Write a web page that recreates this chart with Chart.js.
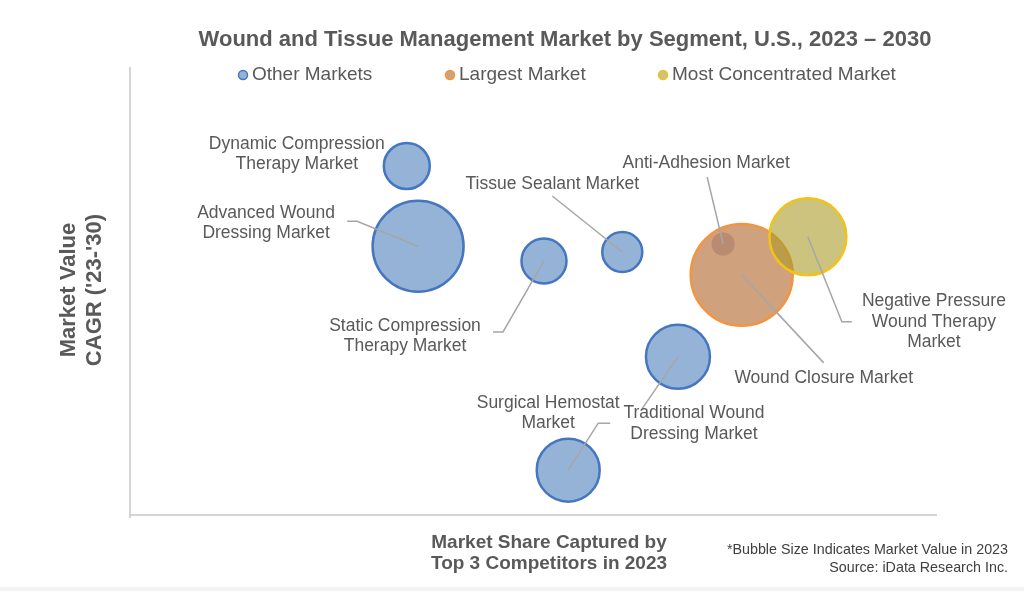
<!DOCTYPE html>
<html>
<head>
<meta charset="utf-8">
<script src="https://cdn.jsdelivr.net/npm/chart.js@4.4.0/dist/chart.umd.min.js"></script>
<style>
body{margin:0;background:#fff;}
#wrap{width:1024px;height:591px;position:relative;}
</style>
</head>
<body>
<div id="wrap"><canvas id="mycanvas" width="1024" height="591"></canvas></div>
<script>
// segment data (axes have no ticks, so both run 0-100)
var markets = ['Dynamic Compression Therapy Market', 'Advanced Wound Dressing Market',
	'Static Compression Therapy Market', 'Tissue Sealant Market', 'Traditional Wound Dressing Market',
	'Surgical Hemostat Market', 'Wound Closure Market', 'Negative Pressure Wound Therapy Market',
	'Anti-Adhesion Market'];
var top3Share = [34.3, 35.7, 51.3, 61.0, 67.9, 54.3, 75.8, 84.0, 73.5];
var cagr = [77.9, 60.0, 56.7, 58.7, 35.3, 10.0, 53.6, 62.1, 60.5];
var value2023 = [194, 760, 186, 147, 376, 364, 955, 544, 49];
var group = [0, 0, 0, 0, 0, 0, 1, 2, 3];
var legendLabels = ['Other Markets', 'Largest Market', 'Most Concentrated Market'];

// label text lines + offset from bubble centre, leader bend points (px)
var callouts = [
	{lines: ['Dynamic Compression', 'Therapy Market'], dx: -110, dy: -12, leader: []},
	{lines: ['Advanced Wound', 'Dressing Market'], dx: -152, dy: -23, leader: [[-61, -25], [-71, -25]]},
	{lines: ['Static Compression', 'Therapy Market'], dx: -139, dy: 75, leader: [[-41, 71], [-51, 71]]},
	{lines: ['Tissue Sealant Market'], dx: -70, dy: -68, leader: [[-70, -56]]},
	{lines: ['Traditional Wound', 'Dressing Market'], dx: 16, dy: 67, leader: [[-36, 52]]},
	{lines: ['Surgical Hemostat', 'Market'], dx: -20, dy: -57, leader: [[30, -47], [42, -47]]},
	{lines: ['Wound Closure Market'], dx: 82, dy: 103, leader: [[82, 88]]},
	{lines: ['Negative Pressure', 'Wound Therapy', 'Market'], dx: 126, dy: 85, leader: [[34, 85], [44, 85]]},
	{lines: ['Anti-Adhesion Market'], dx: -17, dy: -81, leader: [[-16, -67]]}
];

var fills = ['rgba(79,129,189,0.6)', 'rgba(176,98,38,0.6)', 'rgba(170,155,40,0.6)', 'rgba(140,100,90,0.35)'];
var borders = ['#4676C0', '#F39540', '#F2C21C', 'rgba(0,0,0,0)'];
var FONT = '"Liberation Sans", Arial, sans-serif';

function bubbles(g) {
	var pts = [];
	for (var i in markets) {
		if (group[i] != g) continue;
		pts.push({x: top3Share[i], y: cagr[i], r: Math.sqrt(value2023[i]) * 1.65, idx: +i});
	}
	return pts;
}

// draw order: first dataset ends on top
var datasets = [3, 2, 1, 0].map(function(g) {
	return {
		label: g < 3 ? legendLabels[g] : 'Anti-Adhesion',
		data: bubbles(g),
		backgroundColor: fills[g],
		borderColor: borders[g],
		borderWidth: g < 3 ? 2.5 : 0
	};
});

var decor = {
	id: 'decor',
	beforeDatasetsDraw: function(chart) {
		var ctx = chart.ctx, a = chart.chartArea;
		ctx.save();
		ctx.strokeStyle = '#C8C8C8';
		ctx.lineWidth = 1.5;
		ctx.beginPath();
		ctx.moveTo(a.left, a.top);
		ctx.lineTo(a.left, a.bottom + 3);
		ctx.moveTo(a.left, a.bottom);
		ctx.lineTo(a.right, a.bottom);
		ctx.stroke();
		ctx.fillStyle = '#F2F2F2';
		ctx.fillRect(0, 587, chart.width, 4);
		ctx.restore();
	},
	afterDatasetsDraw: function(chart) {
		var ctx = chart.ctx, xs = chart.scales.x, ys = chart.scales.y;
		ctx.save();
		// leader lines and segment labels
		for (var i in markets) {
			var cx = xs.getPixelForValue(top3Share[i]), cy = ys.getPixelForValue(cagr[i]);
			var c = callouts[i];
			if (c.leader.length) {
				ctx.strokeStyle = '#A6A6A6';
				ctx.lineWidth = 1.5;
				ctx.beginPath();
				ctx.moveTo(cx, cy);
				c.leader.forEach(function(p) { ctx.lineTo(cx + p[0], cy + p[1]); });
				ctx.stroke();
			}
			ctx.fillStyle = '#595959';
			ctx.font = '17.5px ' + FONT;
			ctx.textAlign = 'center';
			ctx.textBaseline = 'middle';
			var n = c.lines.length;
			c.lines.forEach(function(t, k) {
				ctx.fillText(t, cx + c.dx, cy + c.dy + (k - (n - 1) / 2) * 20.5);
			});
		}

		// title
		ctx.fillStyle = '#595959';
		ctx.font = 'bold 22px ' + FONT;
		ctx.fillText('Wound and Tissue Management Market by Segment, U.S., 2023 \u2013 2030', 565, 40);

		// legend
		var lx = [243, 450, 663];
		ctx.font = '19px ' + FONT;
		ctx.textAlign = 'left';
		for (var g = 0; g < 3; g++) {
			ctx.beginPath();
			ctx.arc(lx[g], 75, 4.5, 0, Math.PI * 2);
			ctx.fillStyle = fills[g];
			ctx.fill();
			ctx.strokeStyle = borders[g];
			ctx.lineWidth = 1.5;
			ctx.stroke();
			ctx.fillStyle = '#595959';
			ctx.fillText(legendLabels[g], lx[g] + 9, 75);
		}

		// axis titles
		ctx.textAlign = 'center';
		ctx.font = 'bold 19px ' + FONT;
		ctx.fillText('Market Share Captured by', 549, 543);
		ctx.fillText('Top 3 Competitors in 2023', 549, 564);
		ctx.save();
		ctx.translate(82, 290);
		ctx.rotate(-Math.PI / 2);
		ctx.font = 'bold 22px ' + FONT;
		ctx.fillText('Market Value', 0, -13);
		ctx.fillText("CAGR ('23-'30)", 0, 13);
		ctx.restore();

		// footnote
		ctx.fillStyle = '#404040';
		ctx.font = '14.3px ' + FONT;
		ctx.textAlign = 'right';
		ctx.fillText('*Bubble Size Indicates Market Value in 2023', 1008, 550);
		ctx.fillText('Source: iData Research Inc.', 1008, 568);
		ctx.restore();
	}
};

var ctx = document.getElementById('mycanvas');
var bubbleChart = new Chart(ctx, {
	type: 'bubble',
	data: {datasets: datasets},
	options: {
		responsive: false,
		animation: false,
		layout: {padding: {left: 130, right: 87, top: 67, bottom: 76}},
		plugins: {legend: {display: false}, title: {display: false}, tooltip: {enabled: false}},
		scales: {
			x: {display: false, min: 0, max: 100},
			y: {display: false, min: 0, max: 100}
		}
	},
	plugins: [decor]
});
</script>
</body>
</html>
